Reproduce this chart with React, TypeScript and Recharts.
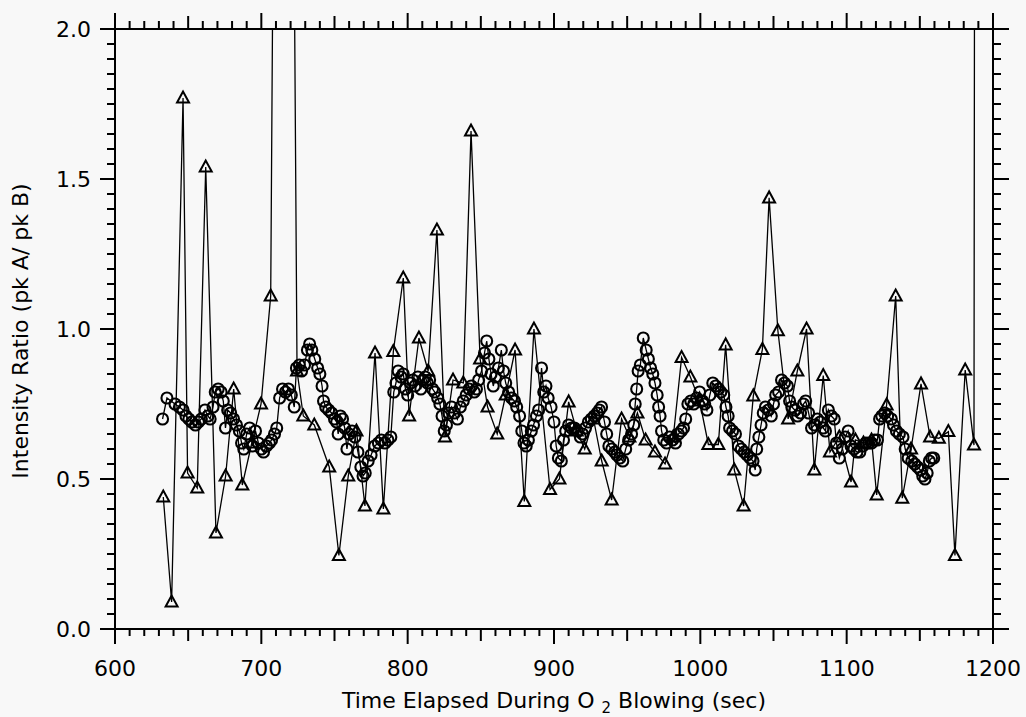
import React from 'react';
import { LineChart, Line, XAxis, YAxis } from 'recharts';

// [time (sec), intensity ratio] — circle series
const circleSeries: [number, number][] = [
  [632.5, 0.70], [635.5, 0.77], [641, 0.75], [644, 0.74], [646.5, 0.73], [648.5, 0.71],
  [650.5, 0.70], [652.5, 0.69], [655, 0.68], [657, 0.69], [659, 0.70], [661.5, 0.73],
  [663.5, 0.71], [665, 0.70], [667, 0.74], [668.5, 0.79], [670.5, 0.80], [672.5, 0.79],
  [674, 0.76], [675.5, 0.67], [677, 0.73], [679, 0.72], [681, 0.70], [683, 0.68],
  [685, 0.66], [686.5, 0.62], [688, 0.60], [690, 0.65], [692, 0.67], [694, 0.61],
  [696, 0.66], [698, 0.62], [700, 0.60], [701.5, 0.59], [703.5, 0.61], [705.5, 0.62],
  [707, 0.63], [709, 0.65], [710.5, 0.67], [712.5, 0.77], [714.5, 0.80], [716.5, 0.79],
  [718.5, 0.80], [720.5, 0.78], [722.5, 0.74], [724, 0.87], [726, 0.88], [727.5, 0.86],
  [729.5, 0.88], [731.5, 0.93], [733, 0.95], [734.5, 0.93], [736.5, 0.90], [738.5, 0.87],
  [740, 0.85], [741.5, 0.81], [742.5, 0.76], [744, 0.74], [746, 0.73], [748, 0.72],
  [750, 0.70], [751.5, 0.69], [752.5, 0.65], [754, 0.71], [755.5, 0.70], [757, 0.67],
  [758.5, 0.60], [760, 0.65], [762, 0.66], [764, 0.64], [766, 0.59], [768, 0.54],
  [769.5, 0.51], [771, 0.52], [773, 0.56], [775, 0.58], [777.5, 0.61], [780, 0.62],
  [782, 0.63], [784.5, 0.62], [786.5, 0.63], [788.5, 0.64], [790.5, 0.79], [792, 0.82],
  [793.5, 0.86], [795.5, 0.84], [797, 0.85], [798.5, 0.80], [800, 0.78], [802, 0.82],
  [803.5, 0.83], [805, 0.81], [807, 0.84], [809, 0.80], [810.5, 0.83], [812, 0.84],
  [813.5, 0.82], [815, 0.83], [817, 0.80], [818.5, 0.79], [820.5, 0.77], [822, 0.75],
  [823.5, 0.71], [825, 0.66], [826.5, 0.68], [828, 0.72], [830, 0.74], [832, 0.72],
  [834, 0.70], [836, 0.74], [838, 0.76], [840, 0.78], [842, 0.80], [843.5, 0.81],
  [845.5, 0.79], [847, 0.80], [848.5, 0.83], [850.5, 0.86], [852.5, 0.92], [854, 0.96],
  [855.5, 0.90], [857, 0.85], [858.5, 0.81], [860, 0.84], [862, 0.87], [864, 0.93],
  [865.5, 0.86], [867, 0.82], [869, 0.79], [871, 0.77], [873, 0.76], [874.5, 0.74],
  [876.5, 0.71], [878, 0.66], [879.5, 0.62], [881, 0.61], [882.5, 0.63], [884.5, 0.66],
  [886, 0.68], [888, 0.71], [889.5, 0.73], [891.5, 0.87], [893, 0.79], [894.5, 0.81],
  [896, 0.77], [898, 0.74], [900, 0.69], [901.5, 0.61], [903, 0.57], [905, 0.56],
  [906.5, 0.63], [908, 0.66], [910, 0.68], [912, 0.67], [914, 0.67], [916, 0.66],
  [918, 0.64], [919.5, 0.65], [921.5, 0.67], [923.5, 0.69], [925.5, 0.70], [927.5, 0.71],
  [929.5, 0.72], [931, 0.73], [932.5, 0.74], [934.5, 0.69], [936, 0.65], [937.5, 0.61],
  [939.5, 0.60], [941.5, 0.59], [943, 0.58], [945, 0.57], [947, 0.56], [949, 0.60],
  [951, 0.63], [953, 0.65], [954.5, 0.68], [955.5, 0.75], [956.5, 0.80], [957.5, 0.86],
  [959, 0.88], [961, 0.97], [963, 0.93], [964.5, 0.90], [966, 0.87], [967.5, 0.85],
  [969, 0.82], [970.5, 0.78], [971.5, 0.74], [972.5, 0.71], [973.5, 0.66], [975, 0.63],
  [977, 0.62], [979, 0.64], [981, 0.63], [983, 0.62], [985, 0.65], [987, 0.66],
  [988.5, 0.67], [990, 0.70], [991.5, 0.75], [993.5, 0.76], [995.5, 0.75], [997.5, 0.77],
  [999.5, 0.79], [1001.5, 0.76], [1003, 0.75], [1004.5, 0.73], [1006.5, 0.78], [1008.5, 0.82],
  [1010.5, 0.81], [1012.5, 0.80], [1014, 0.79], [1016, 0.78], [1017.5, 0.74], [1019, 0.71],
  [1020, 0.67], [1022, 0.66], [1024, 0.65], [1026, 0.61], [1028, 0.60], [1030, 0.59],
  [1032, 0.58], [1034, 0.57], [1036, 0.56], [1037.5, 0.53], [1038.5, 0.60], [1040, 0.64],
  [1041.5, 0.68], [1043, 0.72], [1044.5, 0.74], [1046.5, 0.73], [1048.5, 0.71], [1050, 0.75],
  [1051.5, 0.78], [1053.5, 0.79], [1055.5, 0.83], [1057.5, 0.82], [1059.5, 0.81], [1061, 0.76],
  [1062.5, 0.74], [1064.5, 0.73], [1066.5, 0.71], [1068.5, 0.72], [1070.5, 0.75], [1072, 0.76],
  [1074, 0.72], [1076, 0.67], [1078, 0.68], [1080, 0.70], [1082, 0.69], [1084, 0.67],
  [1085.5, 0.66], [1087.5, 0.73], [1089.5, 0.71], [1091.5, 0.70], [1093, 0.62], [1095, 0.57],
  [1097, 0.60], [1099, 0.64], [1101, 0.66], [1103, 0.61], [1105, 0.60], [1107, 0.59],
  [1109, 0.59], [1111, 0.61], [1113, 0.62], [1115, 0.62], [1117, 0.62], [1119, 0.63],
  [1121, 0.63], [1122.5, 0.70], [1124, 0.71], [1126, 0.72], [1128, 0.71], [1130.5, 0.70],
  [1132, 0.68], [1134, 0.66], [1136, 0.65], [1138.5, 0.64], [1140, 0.60], [1142, 0.57],
  [1144.5, 0.56], [1146.5, 0.55], [1148.5, 0.54], [1150.5, 0.53], [1152, 0.51], [1153.5, 0.50],
  [1155, 0.52], [1156.5, 0.56], [1158, 0.57], [1159.5, 0.57],
];

// [time (sec), intensity ratio] — triangle series (some values run off the top of the plot)
const triangleSeries: [number, number][] = [
  [633, 0.44], [638.7, 0.09], [646.5, 1.77], [649.6, 0.52], [656.2, 0.47], [662, 1.54],
  [669, 0.32], [675.6, 0.51], [681.1, 0.80], [687, 0.48], [693.5, 0.62], [699.8, 0.75],
  [706.4, 1.11], [711, 4.5], [720, 4.0], [724.4, 0.86], [728.7, 0.71], [736.2, 0.68],
  [746.4, 0.54], [753, 0.245], [759.4, 0.51], [765, 0.66], [770.8, 0.41], [777.7, 0.92],
  [783.4, 0.40], [790.2, 0.925], [797, 1.17], [801, 0.71], [807.7, 0.97], [814, 0.86],
  [820, 1.33], [825.5, 0.64], [831, 0.83], [838, 0.82], [843.3, 1.66], [849.5, 0.90],
  [854.6, 0.74], [861.2, 0.65], [867, 0.78], [873.4, 0.93], [879.7, 0.425], [886.3, 1.00],
  [897.3, 0.465], [903.7, 0.50], [910, 0.757], [915.5, 0.66], [921, 0.60], [927, 0.70],
  [932.6, 0.56], [939.4, 0.43], [946.2, 0.70], [951.5, 0.64], [957, 0.72], [962.6, 0.63],
  [969, 0.59], [975.9, 0.55], [981.5, 0.64], [987.2, 0.905], [993.2, 0.84], [999.5, 0.76],
  [1005.5, 0.615], [1012.3, 0.615], [1017.3, 0.947], [1023.2, 0.53], [1029.6, 0.41], [1036.2, 0.777],
  [1042.4, 0.932], [1047, 1.437], [1053, 0.994], [1060, 0.70], [1066.3, 0.86], [1072.6, 1.00],
  [1077.9, 0.53], [1084, 0.845], [1088.6, 0.59], [1095, 0.64], [1103, 0.49], [1106, 0.63],
  [1111.5, 0.62], [1117, 0.63], [1120.5, 0.447], [1127.3, 0.747], [1133.5, 1.11], [1138, 0.436],
  [1144, 0.60], [1150.8, 0.817], [1157, 0.64], [1163, 0.636], [1169.5, 0.658], [1174, 0.245],
  [1181, 0.863], [1187, 0.613], [1188, 5.0],
];

const xMajorTicks = [600, 700, 800, 900, 1000, 1100, 1200];
const yMajorTicks = [0, 0.5, 1.0, 1.5, 2.0];
const xMinorStep = 10;
const yMinorStep = 0.05;

const X_MIN = xMajorTicks[0];
const X_MAX = xMajorTicks[xMajorTicks.length - 1];
const Y_MIN = yMajorTicks[0];
const Y_MAX = yMajorTicks[yMajorTicks.length - 1];

const xTicks = Array.from({ length: Math.round((X_MAX - X_MIN) / xMinorStep) + 1 }, (_, i) => X_MIN + i * xMinorStep);
const yTicks = Array.from({ length: Math.round((Y_MAX - Y_MIN) / yMinorStep) + 1 }, (_, i) => Math.round((Y_MIN + i * yMinorStep) * 100) / 100);

const circleData = circleSeries.map(([t, v]) => ({ t, v }));
const triangleData = triangleSeries.map(([t, v]) => ({ t, v }));

const FONT = "'DejaVu Sans', 'Liberation Sans', sans-serif";
const INK = '#000';
const BG = '#f8f8f8';

const xLen = (v: number) => (v % 100 === 0 ? 15 : v % 50 === 0 ? 12 : 7);
const isYMajor = (v: number) => Math.round(v * 100) % 50 === 0;

const BottomTick = (p: any) => {
  const v = p.payload.value;
  const major = v % 100 === 0;
  return (
    <g>
      <line x1={p.x} y1={p.y} x2={p.x} y2={p.y + xLen(v)} stroke={INK} strokeWidth={2} />
      {major && (
        <text x={p.x} y={p.y + 47} textAnchor="middle" fontSize={22} fontFamily={FONT} fill={INK}>
          {v}
        </text>
      )}
    </g>
  );
};

const TopTick = (p: any) => {
  const v = p.payload.value;
  return <line x1={p.x} y1={p.y} x2={p.x} y2={p.y - xLen(v) - 1} stroke={INK} strokeWidth={2} />;
};

const LeftTick = (p: any) => {
  const v = p.payload.value;
  const major = isYMajor(v);
  return (
    <g>
      <line x1={p.x} y1={p.y} x2={p.x - (major ? 15 : 8)} y2={p.y} stroke={INK} strokeWidth={2} />
      {major && (
        <text x={p.x - 24} y={p.y + 8} textAnchor="end" fontSize={22} fontFamily={FONT} fill={INK}>
          {v.toFixed(1)}
        </text>
      )}
    </g>
  );
};

const RightTick = (p: any) => {
  const v = p.payload.value;
  const major = isYMajor(v);
  return <line x1={p.x} y1={p.y} x2={p.x + (major ? 16 : 8)} y2={p.y} stroke={INK} strokeWidth={2} />;
};

const CircleDot = (p: any) => {
  if (p.cx == null || p.cy == null) return <g key={p.index} />;
  return <circle key={p.index} cx={p.cx} cy={p.cy} r={5.5} fill="none" stroke={INK} strokeWidth={2.1} />;
};

const TriangleDot = (p: any) => {
  if (p.cx == null || p.cy == null) return <g key={p.index} />;
  const { cx, cy } = p;
  const pts = `${cx},${cy - 6.5} ${cx - 6},${cy + 4.5} ${cx + 6},${cy + 4.5}`;
  return <polygon key={p.index} points={pts} fill="none" stroke={INK} strokeWidth={2} strokeLinejoin="miter" />;
};

const XLabel = (p: any) => {
  const vb = p.viewBox || { x: 107, y: 621, width: 878, height: 88 };
  const cx = vb.x + vb.width / 2;
  return (
    <text x={cx} y={vb.y + 79} textAnchor="middle" fontSize={22} fontFamily={FONT} fill={INK}>
      Time Elapsed During O{' '}
      <tspan fontSize={15} dy={5}>2</tspan>
      <tspan dy={-5}> Blowing (sec)</tspan>
    </text>
  );
};

const YLabel = (p: any) => {
  const vb = p.viewBox || { x: 0, y: 21, width: 107, height: 600 };
  const cy = vb.y + vb.height / 2 + 2;
  const x = 20;
  return (
    <text x={x} y={cy} transform={`rotate(-90, ${x}, ${cy})`} textAnchor="middle" fontSize={22} fontFamily={FONT} fill={INK}>
      Intensity Ratio (pk A/ pk B)
    </text>
  );
};

export default function App() {
  return (
    <div style={{ position: 'fixed', left: 0, top: 0, width: 1026, height: 717, background: BG }}>
      <div style={{ position: 'absolute', left: 8, top: 8 }}>
        <LineChart width={1018} height={709} margin={{ top: 20, right: 32, bottom: 0, left: 0 }}>
          <XAxis
            xAxisId="b"
            type="number"
            dataKey="t"
            orientation="bottom"
            domain={[X_MIN, X_MAX]}
            ticks={xTicks}
            interval={0}
            allowDataOverflow
            height={88}
            tickSize={0}
            tickMargin={0}
            tickLine={false}
            axisLine={{ stroke: INK, strokeWidth: 2 }}
            tick={BottomTick}
            label={{ content: XLabel }}
          />
          <XAxis
            xAxisId="t"
            type="number"
            dataKey="t"
            orientation="top"
            domain={[X_MIN, X_MAX]}
            ticks={xTicks}
            interval={0}
            allowDataOverflow
            height={1}
            tickSize={0}
            tickMargin={0}
            tickLine={false}
            axisLine={{ stroke: INK, strokeWidth: 2 }}
            tick={TopTick}
          />
          <YAxis
            yAxisId="l"
            type="number"
            orientation="left"
            domain={[Y_MIN, Y_MAX]}
            ticks={yTicks}
            interval={0}
            allowDataOverflow
            width={107}
            tickSize={0}
            tickMargin={0}
            tickLine={false}
            axisLine={{ stroke: INK, strokeWidth: 2 }}
            tick={LeftTick}
            label={{ content: YLabel }}
          />
          <YAxis
            yAxisId="r"
            type="number"
            orientation="right"
            domain={[Y_MIN, Y_MAX]}
            ticks={yTicks}
            interval={0}
            allowDataOverflow
            width={1}
            tickSize={0}
            tickMargin={0}
            tickLine={false}
            axisLine={{ stroke: INK, strokeWidth: 2 }}
            tick={RightTick}
          />
          <Line
            xAxisId="b"
            yAxisId="l"
            data={circleData}
            dataKey="v"
            type="linear"
            stroke={INK}
            strokeWidth={1.3}
            dot={CircleDot}
            activeDot={false}
            isAnimationActive={false}
          />
          <Line
            xAxisId="b"
            yAxisId="l"
            data={triangleData}
            dataKey="v"
            type="linear"
            stroke={INK}
            strokeWidth={1.3}
            dot={TriangleDot}
            activeDot={false}
            isAnimationActive={false}
          />
        </LineChart>
      </div>
    </div>
  );
}
